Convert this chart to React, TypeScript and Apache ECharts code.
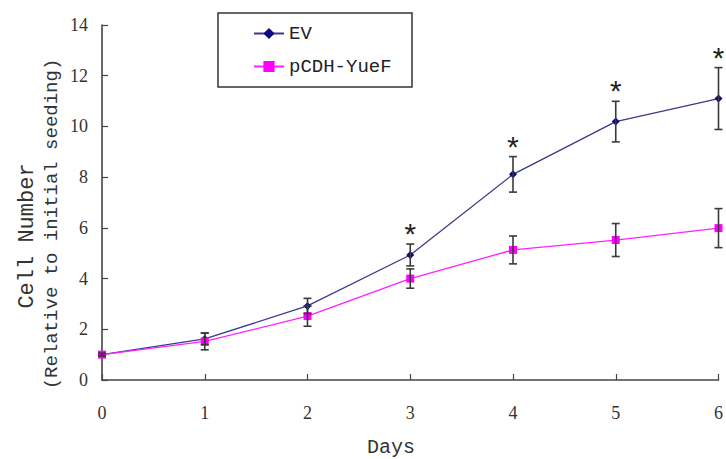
import React, { useEffect, useRef } from "react";
import * as echarts from "echarts";

const days = [0, 1, 2, 3, 4, 5, 6];
const evMean = [1.0, 1.62, 2.92, 4.93, 8.11, 10.19, 11.1];
const evErr = [0.05, 0.23, 0.3, 0.43, 0.7, 0.8, 1.22];
const yuefMean = [1.0, 1.52, 2.52, 4.0, 5.13, 5.52, 5.99];
const yuefErr = [0.05, 0.33, 0.4, 0.38, 0.55, 0.65, 0.77];
const sigDays = [3, 4, 5, 6];
const yTicks = [0, 2, 4, 6, 8, 10, 12, 14];

const FONT = "Liberation Mono";
const SERIF = "Liberation Serif";
const AXIS = "#454545";

export default function App() {
  const ref = useRef<HTMLDivElement>(null);
  useEffect(() => {
    document.body.style.margin = "0";
    const chart = echarts.init(ref.current!, null, { renderer: "svg" });

    const errData = (means: number[], errs: number[]) =>
      days.map((d, i) => [d, means[i] - errs[i], means[i] + errs[i]]);

    const errRender = (params: any, api: any) => {
      const x = api.value(0);
      const lo = api.coord([x, api.value(1)]);
      const hi = api.coord([x, api.value(2)]);
      const w = 4;
      const st = { stroke: "#3a3a3a", lineWidth: 1.6 };
      return {
        type: "group",
        children: [
          { type: "line", shape: { x1: lo[0], y1: lo[1], x2: hi[0], y2: hi[1] }, style: st },
          { type: "line", shape: { x1: lo[0] - w, y1: lo[1], x2: lo[0] + w, y2: lo[1] }, style: st },
          { type: "line", shape: { x1: hi[0] - w, y1: hi[1], x2: hi[0] + w, y2: hi[1] }, style: st },
        ],
      };
    };

    const starData = sigDays.map((d) => [d, evMean[d] + evErr[d]]);

    chart.setOption({
      animation: false,
      backgroundColor: "#ffffff",
      textStyle: { fontFamily: FONT },
      grid: { left: 102, right: 4, top: 25, bottom: 79 },
      xAxis: {
        type: "value",
        min: 0,
        max: 6,
        interval: 1,
        axisLine: { onZero: false, lineStyle: { color: AXIS, width: 1.6 } },
        axisTick: { inside: true, length: 6, lineStyle: { color: AXIS, width: 1.2 } },
        axisLabel: { fontFamily: SERIF, fontSize: 18, color: "#333", margin: 24, showMaxLabel: true },
        splitLine: { show: false },
      },
      yAxis: {
        type: "value",
        min: yTicks[0],
        max: yTicks[yTicks.length - 1],
        interval: 2,
        axisLine: { show: true, lineStyle: { color: AXIS, width: 1.6 } },
        axisTick: { show: true, inside: true, length: 6, lineStyle: { color: AXIS, width: 1.2 } },
        axisLabel: { fontFamily: SERIF, fontSize: 18, color: "#333", margin: 14 },
        splitLine: { show: false },
      },
      legend: {
        left: 248,
        top: 19,
        orient: "vertical",
        itemWidth: 30,
        itemHeight: 14,
        itemGap: 14,
        textStyle: { fontFamily: FONT, fontSize: 19, color: "#222" },
        data: ["EV", "pCDH-YueF"],
      },
      graphic: [
        {
          type: "rect",
          shape: { x: 218, y: 13, width: 194, height: 74 },
          style: { fill: "none", stroke: "#333", lineWidth: 1.5 },
          z: 10,
        },
        {
          type: "text",
          x: 27,
          y: 236,
          rotation: Math.PI / 2,
          style: {
            text: "Cell Number",
            font: `22px ${FONT}`,
            fill: "#333",
            align: "center",
            verticalAlign: "middle",
          },
        },
        {
          type: "text",
          x: 52,
          y: 224,
          rotation: Math.PI / 2,
          style: {
            text: "(Relative to initial seeding)",
            font: `19px ${FONT}`,
            fill: "#333",
            align: "center",
            verticalAlign: "middle",
          },
        },
        {
          type: "text",
          x: 391,
          y: 447,
          style: {
            text: "Days",
            font: `20px ${FONT}`,
            fill: "#333",
            align: "center",
            verticalAlign: "middle",
          },
        },
      ],
      series: [
        {
          name: "EV",
          type: "line",
          data: days.map((d, i) => [d, evMean[i]]),
          symbol: "diamond",
          symbolSize: 8,
          lineStyle: { color: "#3a3a8c", width: 1.3 },
          itemStyle: { color: "#0a0a80" },
          z: 3,
        },
        {
          name: "pCDH-YueF",
          type: "line",
          data: days.map((d, i) => [d, yuefMean[i]]),
          symbol: "rect",
          symbolSize: 8,
          lineStyle: { color: "#ff20ff", width: 1.3 },
          itemStyle: { color: "#ff00ff" },
          z: 4,
        },
        {
          type: "custom",
          renderItem: errRender,
          data: errData(evMean, evErr),
          z: 5,
          silent: true,
        },
        {
          type: "custom",
          renderItem: errRender,
          data: errData(yuefMean, yuefErr),
          z: 5,
          silent: true,
        },
        {
          type: "custom",
          silent: true,
          data: starData,
          renderItem: (params: any, api: any) => {
            const p = api.coord([api.value(0), api.value(1)]);
            return {
              type: "text",
              x: p[0],
              y: p[1] + 9,
              style: {
                text: "*",
                font: `30px ${FONT}`,
                fill: "#222",
                align: "center",
                verticalAlign: "bottom",
              },
            };
          },
        },
      ],
    });
    return () => chart.dispose();
  }, []);
  return <div ref={ref} style={{ width: 726, height: 459 }} />;
}
